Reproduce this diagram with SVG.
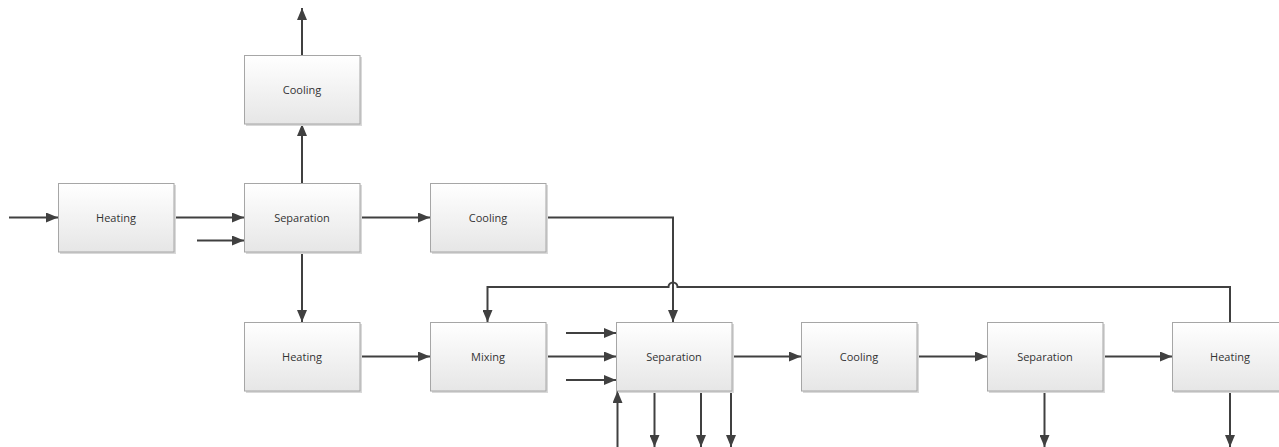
<svg xmlns="http://www.w3.org/2000/svg" width="1279" height="447" viewBox="0 0 1279 447">
<style>
.box{fill:url(#g);stroke:#a6a6a6;stroke-width:1}
.sh{fill:#d9d9d9}
.lbl{font-family:"Open Sans","Liberation Sans",sans-serif;font-size:11px;fill:#333;text-anchor:middle;dominant-baseline:central}
.c{fill:none;stroke:#404040;stroke-width:2}
.a{marker-end:url(#ah)}
</style>
<defs>
<linearGradient id="g" x1="0" y1="0" x2="0" y2="1">
<stop offset="0" stop-color="#ffffff"/>
<stop offset="1" stop-color="#e6e6e6"/>
</linearGradient>
<marker id="ah" markerWidth="12" markerHeight="10" refX="12" refY="5" orient="auto" markerUnits="userSpaceOnUse">
<path d="M0,0 L12,5 L0,10 Z" fill="#404040"/>
</marker>
</defs>
<rect width="1279" height="447" fill="#fff"/>
<g id="connectors">
<path class="c a" d="M9,217.5 H58"/>
<path class="c a" d="M174,217.5 H244"/>
<path class="c a" d="M197,240.5 H244"/>
<path class="c a" d="M302,183 V124"/>
<path class="c a" d="M302,55 V8"/>
<path class="c a" d="M360,217.5 H430"/>
<path class="c a" d="M302,252 V322"/>
<path class="c a" d="M360,356.5 H430"/>
<path class="c a" d="M546,217.5 H673 V322"/>
<path class="c a" d="M1230,322 V287 H677.5 A4.5,4.5 0 0 0 668.5,287 H487.5 V322"/>
<path class="c a" d="M546,356.5 H616"/>
<path class="c a" d="M566,333 H616"/>
<path class="c a" d="M566,380 H616"/>
<path class="c a" d="M617.5,447 V391"/>
<path class="c a" d="M654.5,391 V447"/>
<path class="c a" d="M701,391 V447"/>
<path class="c a" d="M731,391 V447"/>
<path class="c a" d="M732,356.5 H801"/>
<path class="c a" d="M917,356.5 H987"/>
<path class="c a" d="M1103,356.5 H1172"/>
<path class="c a" d="M1044.5,391 V447"/>
<path class="c a" d="M1230,391 V447"/>
</g>
<g id="n1"><rect class="sh" x="60" y="185" width="116" height="69"/><rect class="box" x="58.5" y="183.5" width="115.5" height="68.5"/><text class="lbl" x="116" y="217.5">Heating</text></g>
<g id="n2"><rect class="sh" x="246" y="185" width="116" height="69"/><rect class="box" x="244.5" y="183.5" width="115.5" height="68.5"/><text class="lbl" x="302" y="217.5">Separation</text></g>
<g id="n3"><rect class="sh" x="246" y="57" width="116" height="69"/><rect class="box" x="244.5" y="55.5" width="115.5" height="68.5"/><text class="lbl" x="302" y="89.5">Cooling</text></g>
<g id="n4"><rect class="sh" x="432" y="185" width="116" height="69"/><rect class="box" x="430.5" y="183.5" width="115.5" height="68.5"/><text class="lbl" x="488" y="217.5">Cooling</text></g>
<g id="n5"><rect class="sh" x="246" y="324" width="116" height="69"/><rect class="box" x="244.5" y="322.5" width="115.5" height="68.5"/><text class="lbl" x="302" y="356.5">Heating</text></g>
<g id="n6"><rect class="sh" x="432" y="324" width="116" height="69"/><rect class="box" x="430.5" y="322.5" width="115.5" height="68.5"/><text class="lbl" x="488" y="356.5">Mixing</text></g>
<g id="n7"><rect class="sh" x="618" y="324" width="116" height="69"/><rect class="box" x="616.5" y="322.5" width="115.5" height="68.5"/><text class="lbl" x="674" y="356.5">Separation</text></g>
<g id="n8"><rect class="sh" x="803" y="324" width="116" height="69"/><rect class="box" x="801.5" y="322.5" width="115.5" height="68.5"/><text class="lbl" x="859" y="356.5">Cooling</text></g>
<g id="n9"><rect class="sh" x="989" y="324" width="116" height="69"/><rect class="box" x="987.5" y="322.5" width="115.5" height="68.5"/><text class="lbl" x="1045" y="356.5">Separation</text></g>
<g id="n10"><rect class="sh" x="1174" y="324" width="116" height="69"/><rect class="box" x="1172.5" y="322.5" width="115.5" height="68.5"/><text class="lbl" x="1230" y="356.5">Heating</text></g>
</svg>
